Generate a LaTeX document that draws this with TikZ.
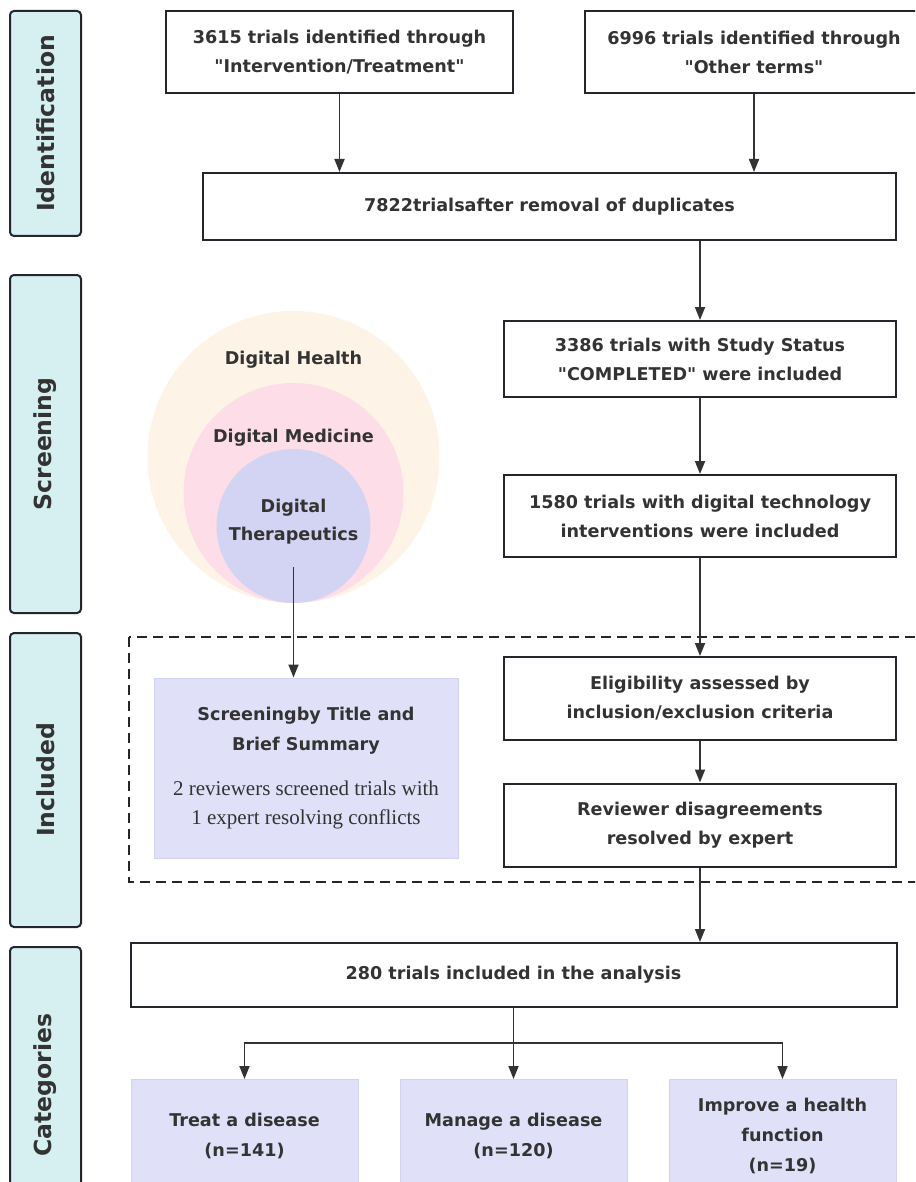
\documentclass[tikz,border=0pt]{standalone}
\usepackage{fontspec}
\setmainfont{Liberation Serif}
\newfontfamily\boxfont{DejaVu Sans}
\usetikzlibrary{arrows.meta}
\definecolor{bordercol}{HTML}{23272D}
\definecolor{textcol}{HTML}{333333}
\definecolor{sidefill}{HTML}{D6EFF0}
\definecolor{lavfill}{HTML}{E0E1F8}
\definecolor{lavborder}{HTML}{D2D3F2}
\definecolor{outerc}{HTML}{FDF3E6}
\definecolor{midc}{HTML}{FCDDE8}
\definecolor{innerc}{HTML}{D3D3F3}
\definecolor{arrc}{HTML}{333333}
\tikzset{
  flowbox/.style={draw=bordercol, line width=2pt, fill=white, align=center, text=textcol, inner sep=0pt,
    font=\boxfont\bfseries\fontsize{17.6}{29}\selectfont},
  lavbox/.style={draw=lavborder, line width=1pt, fill=lavfill, align=center, text=textcol, inner sep=0pt,
    font=\boxfont\bfseries\fontsize{17.6}{30}\selectfont},
  sidebox/.style={draw=bordercol, line width=2pt, fill=sidefill, rounded corners=4pt, inner sep=0pt},
  sidetext/.style={rotate=90, text=textcol, font=\boxfont\bfseries\fontsize{23.5}{26}\selectfont},
  circtext/.style={text=textcol, align=center, font=\boxfont\bfseries\fontsize{17.6}{28}\selectfont},
  arr/.style={draw=arrc, line width=1.8pt, -{Triangle[length=13pt,width=10pt]}},
  plainline/.style={draw=arrc, line width=1.8pt},
}
\begin{document}
\begin{tikzpicture}[x=1pt,y=-1pt]
\useasboundingbox (0,0) rectangle (915,1182);
\clip (0,0) rectangle (915,1182);
\fill[white] (0,0) rectangle (915,1182);

% side labels
\node[sidebox, minimum width=71pt, minimum height=225pt] (sid) at (45.5,123.5) {};
\node[sidetext] (sidt) at (sid.center) {Identification};
\node[sidebox, minimum width=71pt, minimum height=338pt] (sscr) at (45.5,444) {};
\node[sidetext] (sscrt) at (sscr.center) {Screening};
\node[sidebox, minimum width=71pt, minimum height=294pt] (sinc) at (45.5,780) {};
\node[sidetext] (sinct) at (sinc.center) {Included};
\node[sidebox, minimum width=71pt, minimum height=276pt] (scat) at (45.5,1085) {};
\node[sidetext] (scatt) at (scat.center) {Categories};

% dashed region
\draw[bordercol, line width=1.5pt, dash pattern=on 10pt off 6pt] (129,637) rectangle (925,882);

% circles
\fill[outerc] (293.5,457) circle (146);
\fill[midc] (293.5,493) circle (110);
\fill[innerc] (293.5,526) circle (77);
\node[circtext] (dh) at (293.5,360) {Digital Health};
\node[circtext] (dm) at (293.5,438) {Digital Medicine};
\node[circtext] (dt) at (293.5,522) {Digital\\Therapeutics};
\coordinate (dtout) at (293.5,567);

% flow boxes
\node[flowbox, minimum width=347pt, minimum height=82pt] (a) at (339.5,52) {3615 trials identified through\\"Intervention/Treatment"};
\node[flowbox, minimum width=338pt, minimum height=82pt] (b) at (754,52) {6996 trials identified through\\"Other terms"};
\node[flowbox, minimum width=693pt, minimum height=67pt] (c) at (549.5,206.5) {7822trialsafter removal of duplicates};
\node[flowbox, minimum width=392pt, minimum height=76pt] (d) at (700,359) {3386 trials with Study Status\\"COMPLETED" were included};
\node[flowbox, minimum width=392pt, minimum height=82pt] (e) at (700,516) {1580 trials with digital technology\\interventions were included};
\node[flowbox, minimum width=392pt, minimum height=83pt] (f) at (700,698.5) {Eligibility assessed by\\inclusion/exclusion criteria};
\node[flowbox, minimum width=392pt, minimum height=83pt] (g) at (700,825) {Reviewer disagreements\\resolved by expert};
\node[lavbox, minimum width=304pt, minimum height=180pt] (s) at (306,768) {};
\node[lavbox, draw=none, fill=none] (st) at (306,731) {Screeningby Title and\\Brief Summary};
\node[text=textcol, align=center, font=\fontsize{21}{29}\selectfont] (sn) at (306,805) {2 reviewers screened trials with\\1 expert resolving conflicts};
\node[flowbox, minimum width=766pt, minimum height=64pt] (h) at (513.5,975) {280 trials included in the analysis};

\node[lavbox, minimum width=227pt, minimum height=140pt, anchor=north] (k1) at (244.5,1079) {};
\node[lavbox, minimum width=227pt, minimum height=140pt, anchor=north] (k2) at (513.5,1079) {};
\node[lavbox, minimum width=227pt, minimum height=140pt, anchor=north] (k3) at (782.5,1079) {};
\node[lavbox, draw=none, fill=none] (k1t) at (244.5,1136) {Treat a disease\\(n=141)};
\node[lavbox, draw=none, fill=none] (k2t) at (513.5,1136) {Manage a disease\\(n=120)};
\node[lavbox, draw=none, fill=none] (k3t) at (782.5,1136) {Improve a health\\function\\(n=19)};

% connectors
\draw[arr] (a.south) -- (a.south |- c.north);
\draw[arr] (b.south) -- (b.south |- c.north);
\draw[arr] (c.south -| d.north) -- (d.north);
\draw[arr] (d.south) -- (e.north);
\draw[arr] (e.south) -- (f.north);
\draw[arr] (f.south) -- (g.north);
\draw[arr] (g.south) -- (g.south |- h.north);
\draw[arr] (dtout) -- (dtout |- s.north);
\coordinate (br) at (513.5,1043);
\draw[plainline] (h.south) -- (br);
\draw[arr] (br) -| (k1.north);
\draw[arr] (br) -| (k3.north);
\draw[arr] (br) -- (k2.north);
\end{tikzpicture}
\end{document}
